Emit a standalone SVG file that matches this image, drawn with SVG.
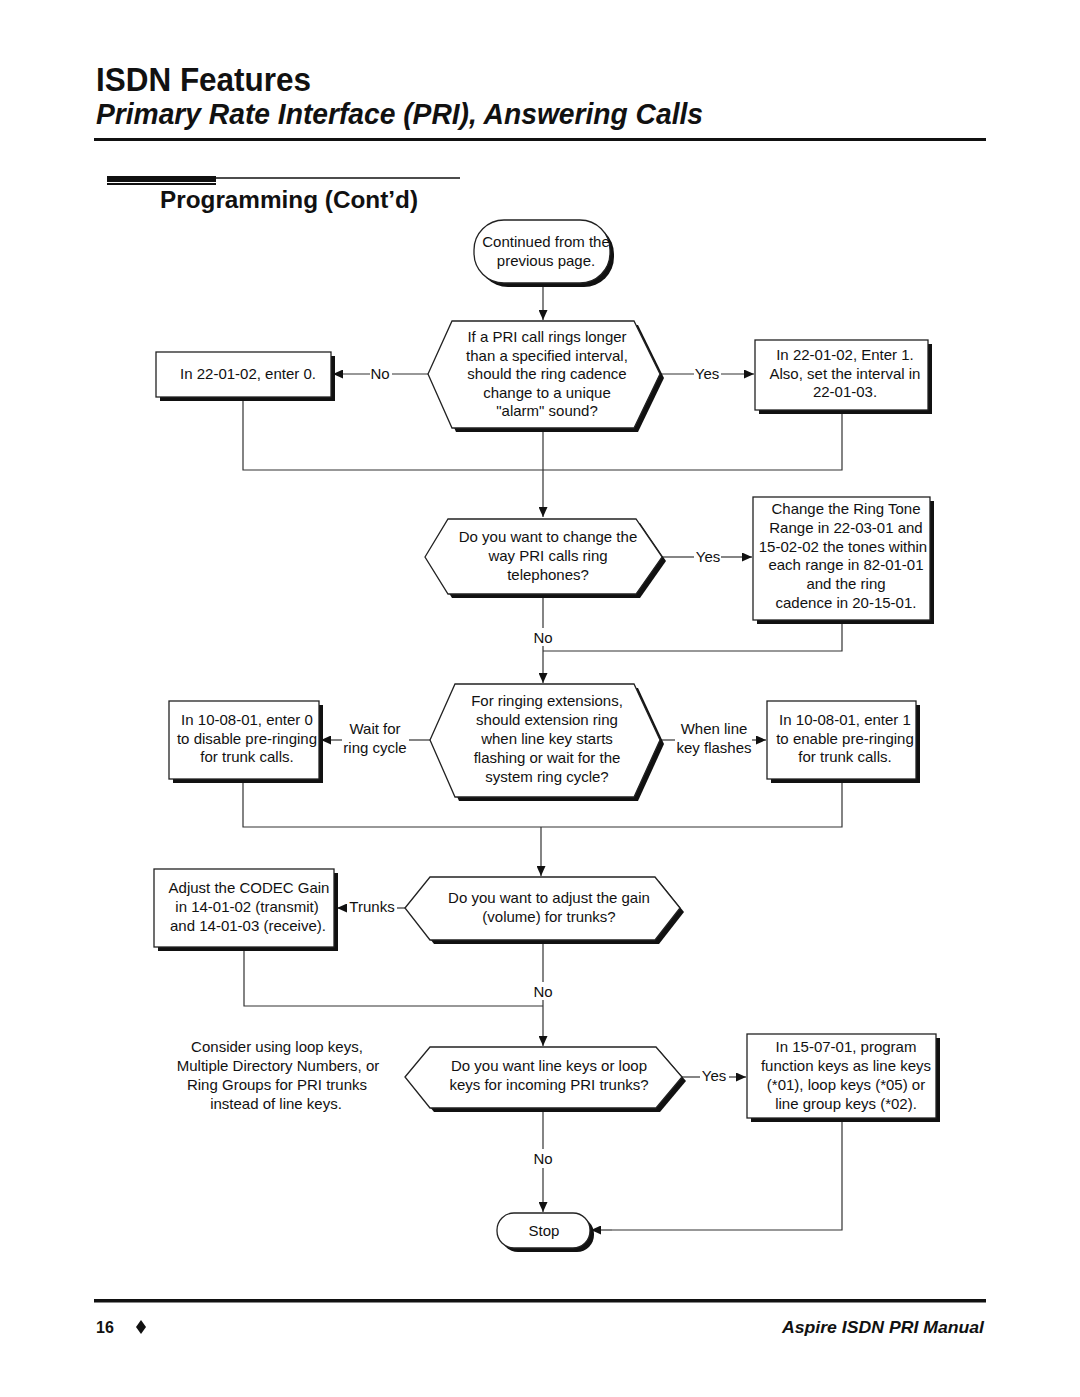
<svg xmlns="http://www.w3.org/2000/svg" width="1080" height="1397" viewBox="0 0 1080 1397">
<defs>
<style>
.t{font-family:"Liberation Sans",Arial,sans-serif;font-size:15px;text-anchor:middle;fill:#111}
.lbl{font-family:"Liberation Sans",Arial,sans-serif;font-size:15px;text-anchor:middle;fill:#111}
.box{fill:#fff;stroke:#222;stroke-width:1.3}
.sh{fill:#111}
.ln{fill:none;stroke:#333;stroke-width:1.2}
.hd{font-family:"Liberation Sans",Arial,sans-serif;font-weight:bold;fill:#111}
</style>
<marker id="ar" markerUnits="userSpaceOnUse" markerWidth="11" markerHeight="9" refX="10" refY="4.5" orient="auto">
<path d="M0,0 L10,4.5 L0,9 Z" fill="#111"/>
</marker>
</defs>
<rect width="1080" height="1397" fill="#fff"/>

<g id="header">
<text class="hd" x="96" y="91" font-size="34" textLength="215" lengthAdjust="spacingAndGlyphs">ISDN Features</text>
<text class="hd" x="96" y="124" font-size="29" font-style="italic" textLength="607" lengthAdjust="spacingAndGlyphs">Primary Rate Interface (PRI), Answering Calls</text>
<rect x="94" y="138" width="892" height="3" fill="#111"/>
<line x1="107" y1="178" x2="460" y2="178" stroke="#111" stroke-width="1.5"/>
<rect x="107" y="176" width="109" height="6" fill="#111"/>
<rect x="107" y="183" width="109" height="2" fill="#111"/>
<text class="hd" x="160" y="208" font-size="24" textLength="258" lengthAdjust="spacingAndGlyphs">Programming (Cont’d)</text>
</g>

<g id="connectors">
<line class="ln" x1="543" y1="287" x2="543" y2="320" marker-end="url(#ar)"/>
<polyline class="ln" points="428,374 392,374"/>
<line class="ln" x1="370" y1="374" x2="333" y2="374" marker-end="url(#ar)"/>
<polyline class="ln" points="660,374 694,374"/>
<line class="ln" x1="721" y1="374" x2="754" y2="374" marker-end="url(#ar)"/>
<polyline class="ln" points="243,401 243,470 842,470 842,414"/>
<line class="ln" x1="543" y1="432" x2="543" y2="517" marker-end="url(#ar)"/>
<polyline class="ln" points="662,557 694,557"/>
<line class="ln" x1="721" y1="557" x2="752" y2="557" marker-end="url(#ar)"/>
<polyline class="ln" points="543,598 543,628"/>
<polyline class="ln" points="543,646 543,651"/>
<line class="ln" x1="543" y1="651" x2="543" y2="683" marker-end="url(#ar)"/>
<polyline class="ln" points="842,624 842,651 543,651"/>
<polyline class="ln" points="430,740 409,740"/>
<line class="ln" x1="342" y1="740" x2="321" y2="740" marker-end="url(#ar)"/>
<polyline class="ln" points="660,740 675,740"/>
<line class="ln" x1="752" y1="740" x2="766" y2="740" marker-end="url(#ar)"/>
<polyline class="ln" points="243,783 243,827 842,827 842,783"/>
<line class="ln" x1="541" y1="827" x2="541" y2="876" marker-end="url(#ar)"/>
<polyline class="ln" points="405,908 397,908"/>
<line class="ln" x1="347" y1="908" x2="337" y2="908" marker-end="url(#ar)"/>
<polyline class="ln" points="543,944 543,982"/>
<polyline class="ln" points="244,951 244,1006 543,1006"/>
<line class="ln" x1="543" y1="1000" x2="543" y2="1046" marker-end="url(#ar)"/>
<polyline class="ln" points="682,1077 700,1077"/>
<line class="ln" x1="729" y1="1077" x2="746" y2="1077" marker-end="url(#ar)"/>
<polyline class="ln" points="543,1112 543,1149"/>
<line class="ln" x1="543" y1="1168" x2="543" y2="1212" marker-end="url(#ar)"/>
<polyline class="ln" points="842,1122 842,1230 612,1230"/>
<line class="ln" x1="612" y1="1230" x2="591" y2="1230" marker-end="url(#ar)"/>
<text class="lbl" x="380" y="379">No</text>
<text class="lbl" x="707" y="379">Yes</text>
<text class="lbl" x="708" y="562">Yes</text>
<text class="lbl" x="543" y="643">No</text>
<text class="lbl" x="375" y="734">Wait for</text>
<text class="lbl" x="375" y="753">ring cycle</text>
<text class="lbl" x="714" y="734">When line</text>
<text class="lbl" x="714" y="753">key flashes</text>
<text class="lbl" x="372" y="912">Trunks</text>
<text class="lbl" x="543" y="997">No</text>
<text class="lbl" x="714" y="1081">Yes</text>
<text class="lbl" x="543" y="1164">No</text>
</g>

<g id="start">
<rect class="sh" x="478" y="224" width="136" height="63" rx="30"/>
<rect class="box" x="474" y="220" width="136" height="63" rx="30"/>
<text class="t" x="546" y="247">Continued from the</text>
<text class="t" x="546" y="266">previous page.</text>
</g>

<g id="q-alarm">
<polygon class="sh" points="432,378 456,325 638,325 664,378 638,432 456,432"/>
<polygon class="box" points="428,374 452,321 634,321 660,374 634,428 452,428"/>
<text class="t" x="547" y="342">If a PRI call rings longer</text>
<text class="t" x="547" y="361">than a specified interval,</text>
<text class="t" x="547" y="379">should the ring cadence</text>
<text class="t" x="547" y="398">change to a unique</text>
<text class="t" x="547" y="416">"alarm" sound?</text>
</g>

<g id="alarm-no">
<rect class="sh" x="160" y="356" width="175" height="45"/>
<rect class="box" x="156" y="352" width="175" height="45"/>
<text class="t" x="248" y="379">In 22-01-02, enter 0.</text>
</g>

<g id="alarm-yes">
<rect class="sh" x="759" y="344" width="173" height="70"/>
<rect class="box" x="755" y="340" width="173" height="70"/>
<text class="t" x="845" y="360">In 22-01-02, Enter 1.</text>
<text class="t" x="845" y="379">Also, set the interval in</text>
<text class="t" x="845" y="397">22-01-03.</text>
</g>

<g id="q-ring">
<polygon class="sh" points="429,561 452,523 640,523 666,561 640,598 452,598"/>
<polygon class="box" points="425,557 448,519 636,519 662,557 636,594 448,594"/>
<text class="t" x="548" y="542">Do you want to change the</text>
<text class="t" x="548" y="561">way PRI calls ring</text>
<text class="t" x="548" y="580">telephones?</text>
</g>

<g id="ring-yes">
<rect class="sh" x="757" y="501" width="177" height="123"/>
<rect class="box" x="753" y="497" width="177" height="123"/>
<text class="t" x="846" y="514">Change the Ring Tone</text>
<text class="t" x="846" y="533">Range in 22-03-01 and</text>
<text class="t" x="843" y="552">15-02-02 the tones within</text>
<text class="t" x="846" y="570">each range in 82-01-01</text>
<text class="t" x="846" y="589">and the ring</text>
<text class="t" x="846" y="608">cadence in 20-15-01.</text>
</g>

<g id="q-prering">
<polygon class="sh" points="434,744 459,688 638,688 664,744 638,801 459,801"/>
<polygon class="box" points="430,740 455,684 634,684 660,740 634,797 455,797"/>
<text class="t" x="547" y="706">For ringing extensions,</text>
<text class="t" x="547" y="725">should extension ring</text>
<text class="t" x="547" y="744">when line key starts</text>
<text class="t" x="547" y="763">flashing or wait for the</text>
<text class="t" x="547" y="782">system ring cycle?</text>
</g>

<g id="prering-off">
<rect class="sh" x="173" y="705" width="150" height="78"/>
<rect class="box" x="169" y="701" width="150" height="78"/>
<text class="t" x="247" y="725">In 10-08-01, enter 0</text>
<text class="t" x="247" y="744">to disable pre-ringing</text>
<text class="t" x="247" y="762">for trunk calls.</text>
</g>

<g id="prering-on">
<rect class="sh" x="771" y="705" width="149" height="78"/>
<rect class="box" x="767" y="701" width="149" height="78"/>
<text class="t" x="845" y="725">In 10-08-01, enter 1</text>
<text class="t" x="845" y="744">to enable pre-ringing</text>
<text class="t" x="845" y="762">for trunk calls.</text>
</g>

<g id="q-gain">
<polygon class="sh" points="409,912 434,881 659,881 684,912 659,944 434,944"/>
<polygon class="box" points="405,908 430,877 655,877 680,908 655,940 430,940"/>
<text class="t" x="549" y="903">Do you want to adjust the gain</text>
<text class="t" x="549" y="922">(volume) for trunks?</text>
</g>

<g id="gain-trunks">
<rect class="sh" x="158" y="873" width="180" height="78"/>
<rect class="box" x="154" y="869" width="180" height="78"/>
<text class="t" x="249" y="893">Adjust the CODEC Gain</text>
<text class="t" x="247" y="912">in 14-01-02 (transmit)</text>
<text class="t" x="248" y="931">and 14-01-03 (receive).</text>
</g>

<g id="note">
<text class="t" x="277" y="1052">Consider using loop keys,</text>
<text class="t" x="278" y="1071">Multiple Directory Numbers, or</text>
<text class="t" x="277" y="1090">Ring Groups for PRI trunks</text>
<text class="t" x="276" y="1109">instead of line keys.</text>
</g>

<g id="q-keys">
<polygon class="sh" points="409,1081 434,1051 660,1051 686,1081 660,1112 434,1112"/>
<polygon class="box" points="405,1077 430,1047 656,1047 682,1077 656,1108 430,1108"/>
<text class="t" x="549" y="1071">Do you want line keys or loop</text>
<text class="t" x="549" y="1090">keys for incoming PRI trunks?</text>
</g>

<g id="keys-yes">
<rect class="sh" x="751" y="1038" width="189" height="84"/>
<rect class="box" x="747" y="1034" width="189" height="84"/>
<text class="t" x="846" y="1052">In 15-07-01, program</text>
<text class="t" x="846" y="1071">function keys as line keys</text>
<text class="t" x="846" y="1090">(*01), loop keys (*05) or</text>
<text class="t" x="846" y="1109">line group keys (*02).</text>
</g>

<g id="stop">
<rect class="sh" x="501" y="1217" width="93" height="35" rx="17"/>
<rect class="box" x="497" y="1213" width="93" height="35" rx="17"/>
<text class="t" x="544" y="1236">Stop</text>
</g>

<g id="footer">
<rect x="94" y="1299" width="892" height="3.5" fill="#111"/>
<text class="hd" x="96" y="1333" font-size="16">16</text>
<polygon points="141,1320 146,1327 141,1334 136,1327" fill="#111"/>
<text class="hd" x="984" y="1333" font-size="17" font-style="italic" text-anchor="end" textLength="202" lengthAdjust="spacingAndGlyphs">Aspire ISDN PRI Manual</text>
</g>
</svg>
